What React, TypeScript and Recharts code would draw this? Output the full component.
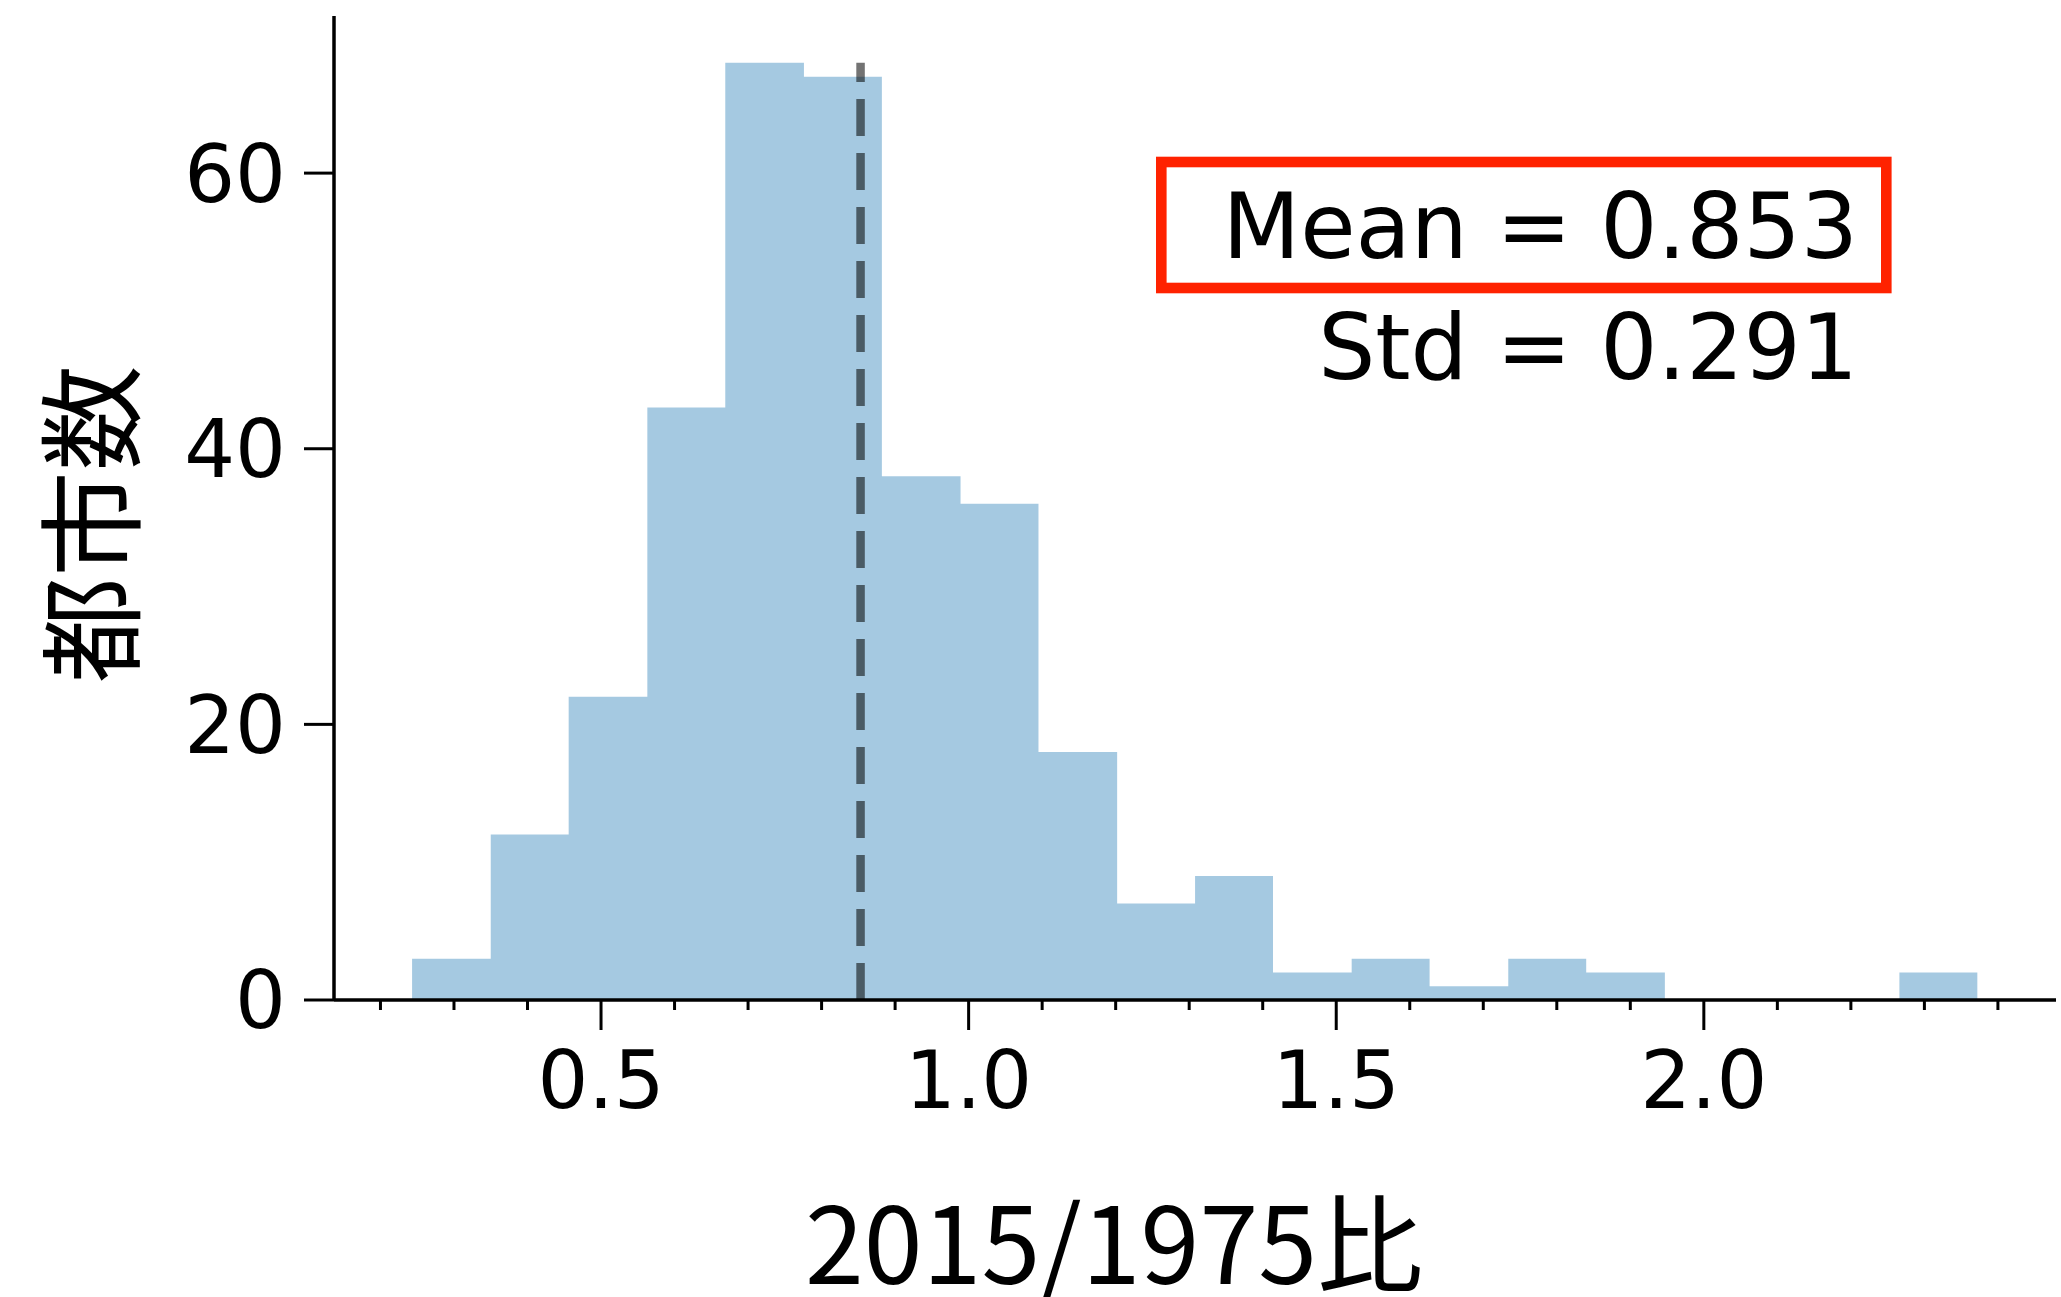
import React from 'react';
import { ComposedChart, Area, XAxis, YAxis, ReferenceLine } from 'recharts';

// Histogram bin edges (left edges, plus final right edge) of 2015/1975 ratio
const binEdges = [0.243, 0.35, 0.456, 0.563, 0.669, 0.776, 0.882, 0.989, 1.095, 1.202, 1.308, 1.414, 1.521, 1.627, 1.734, 1.84, 1.947, 2.053, 2.16, 2.266, 2.372];
// City counts per bin
const binCounts = [3, 12, 22, 43, 68, 67, 38, 36, 18, 7, 9, 2, 3, 1, 3, 2, 0, 0, 0, 2];

const xMajorTicks = [0.5, 1.0, 1.5, 2.0];
const xAllTicks = [0.2, 0.3, 0.4, 0.5, 0.6, 0.7, 0.8, 0.9, 1.0, 1.1, 1.2, 1.3, 1.4, 1.5, 1.6, 1.7, 1.8, 1.9, 2.0, 2.1, 2.2, 2.3, 2.4];
const yTicks = [0, 20, 40, 60];
const xDomain = [0.1368, 2.479];
const yDomain = [0, 71.4];

const meanValue = 0.853;
const stdValue = 0.291;
const meanLineTop = 68;

const xTitle = '2015/1975比';
const yTitle = '都市数';

const data = binEdges.map((edge, i) => ({
  edge,
  count: i < binCounts.length ? binCounts[i] : binCounts[binCounts.length - 1],
}));

const LATIN = '"DejaVu Sans", sans-serif';
const CJK = '"Noto Sans CJK JP", "DejaVu Sans", sans-serif';

const isMajor = (v: number) => xMajorTicks.some((m) => Math.abs(m - v) < 1e-6);

const XTick = (props: any) => {
  const { x, y, payload } = props;
  const v = Number(payload.value);
  const major = isMajor(v);
  return (
    <g>
      <line x1={x} x2={x} y1={y} y2={y + (major ? 30 : 10)} stroke="#000" strokeWidth={3} />
      {major && (
        <text x={x} y={y + 108} textAnchor="middle" fontFamily={LATIN} fontSize={80} fill="#000">
          {v.toFixed(1)}
        </text>
      )}
    </g>
  );
};

const XTitle = () => (
  <text x={1114} y={1284} textAnchor="middle" fontFamily={CJK} fontSize={106} fill="#000">
    {xTitle}
  </text>
);

const YTitle = () => (
  <text
    x={131}
    y={524}
    textAnchor="middle"
    fontFamily={CJK}
    fontSize={106}
    fill="#000"
    transform="rotate(-90 131 524)"
  >
    {yTitle}
  </text>
);

export default function App() {
  return (
    <div style={{ position: 'absolute', left: 0, top: 0, width: 2061, height: 1297, background: '#fff' }}>
      <ComposedChart
        width={2061}
        height={1297}
        data={data}
        margin={{ top: 16, right: 5, bottom: 0, left: 0 }}
      >
        <XAxis
          xAxisId="main"
          type="number"
          dataKey="edge"
          domain={xDomain}
          allowDataOverflow
          ticks={xAllTicks}
          interval={0}
          tick={<XTick />}
          tickSize={0}
          tickMargin={0}
          tickLine={false}
          axisLine={{ stroke: '#000', strokeWidth: 3.5 }}
          height={297}
          label={<XTitle />}
        />
        <YAxis
          type="number"
          domain={yDomain}
          allowDataOverflow
          ticks={yTicks}
          interval={0}
          tick={{ fontSize: 80, fill: '#000', fontFamily: LATIN }}
          tickSize={30}
          tickMargin={18}
          tickLine={{ stroke: '#000', strokeWidth: 3 }}
          axisLine={{ stroke: '#000', strokeWidth: 3.5 }}
          width={334}
          label={<YTitle />}
        />
        <Area
          xAxisId="main"
          dataKey="count"
          type="stepAfter"
          stroke="none"
          fill="#1f77b4"
          fillOpacity={0.4}
          dot={false}
          activeDot={false}
          isAnimationActive={false}
        />
        <ReferenceLine
          xAxisId="main"
          segment={[{ x: meanValue, y: 0 }, { x: meanValue, y: meanLineTop }]}
          stroke="#000"
          strokeOpacity={0.55}
          strokeWidth={8.5}
          strokeDasharray="37 17"
          ifOverflow="visible"
        />
      </ComposedChart>
      <svg
        width={2061}
        height={1297}
        style={{ position: 'absolute', left: 0, top: 0, pointerEvents: 'none' }}
      >
        <rect x={1161.3} y={162} width={725} height={126} fill="none" stroke="#ff2200" strokeWidth={10.6} />
        <text x={1858} y={258} textAnchor="end" fontFamily={LATIN} fontSize={90} fill="#000">
          {`Mean = ${meanValue.toFixed(3)}`}
        </text>
        <text x={1858} y={379} textAnchor="end" fontFamily={LATIN} fontSize={90} fill="#000">
          {`Std = ${stdValue.toFixed(3)}`}
        </text>
      </svg>
    </div>
  );
}
